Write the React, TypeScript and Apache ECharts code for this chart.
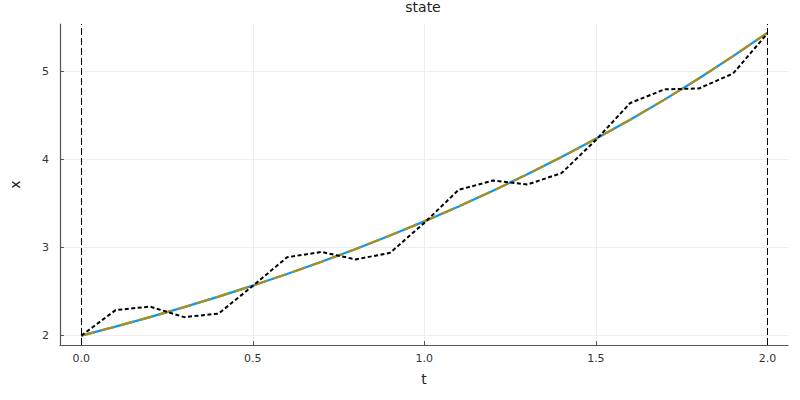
import React, { useEffect, useRef } from "react";
import * as echarts from "echarts";

const tValues = [0, 0.1, 0.2, 0.3, 0.4, 0.5, 0.6, 0.7, 0.8, 0.9, 1.0, 1.1, 1.2, 1.3, 1.4, 1.5, 1.6, 1.7, 1.8, 1.9, 2.0];
const exactX = [2.0, 2.103, 2.21, 2.324, 2.443, 2.568, 2.7, 2.838, 2.984, 3.137, 3.297, 3.467, 3.644, 3.831, 4.028, 4.234, 4.451, 4.679, 4.919, 5.172, 5.437];
const approxX = [2.0, 2.103, 2.21, 2.324, 2.443, 2.568, 2.7, 2.838, 2.984, 3.137, 3.297, 3.467, 3.644, 3.831, 4.028, 4.234, 4.451, 4.679, 4.919, 5.172, 5.437];
const noisyX = [2.0, 2.29, 2.33, 2.21, 2.25, 2.565, 2.89, 2.95, 2.865, 2.94, 3.28, 3.655, 3.76, 3.715, 3.845, 4.22, 4.64, 4.795, 4.805, 4.975, 5.43];
const xTicks = [0, 0.5, 1.0, 1.5, 2.0];
const yTicks = [2, 3, 4, 5];
const vLines = [0, 2];

const pairs = (ys: number[]) => tValues.map((t, i) => [t, ys[i]]);

export default function App() {
  const ref = useRef<HTMLDivElement>(null);
  useEffect(() => {
    if (!ref.current) return;
    const chart = echarts.init(ref.current, undefined, { renderer: "svg" });
    const font = "DejaVu Sans";
    chart.setOption({
      animation: false,
      backgroundColor: "#ffffff",
      title: {
        text: "state",
        left: 423,
        top: 0,
        padding: 0,
        textAlign: "center",
        textStyle: { fontFamily: font, fontSize: 14, fontWeight: "normal", color: "#222" },
      },
      grid: { left: 57, right: 12, top: 24, bottom: 55, containLabel: false },
      xAxis: {
        type: "value",
        min: -0.062,
        max: 2.06,
        name: "t",
        nameLocation: "middle",
        nameGap: 27,
        nameTextStyle: { fontFamily: font, fontSize: 14, color: "#222" },
        axisLine: { show: true, onZero: false, lineStyle: { color: "#555", width: 1.2 } },
        axisTick: { show: true, inside: true, length: 4, customValues: xTicks, lineStyle: { color: "#555" } },
        axisLabel: {
          customValues: xTicks,
          fontFamily: font,
          fontSize: 11,
          color: "#333",
          margin: 8,
          formatter: (v: number) => v.toFixed(1),
        },
        splitLine: { show: true, lineStyle: { color: "#eeeeee", width: 1 } },
      },
      yAxis: {
        type: "value",
        min: 1.894,
        max: 5.537,
        name: "x",
        nameLocation: "middle",
        nameGap: 38,
        nameRotate: 90,
        nameTextStyle: { fontFamily: font, fontSize: 14, color: "#222" },
        axisLine: { show: true, onZero: false, lineStyle: { color: "#555", width: 1.2 } },
        axisTick: { show: true, inside: true, length: 4, customValues: yTicks, lineStyle: { color: "#555" } },
        axisLabel: {
          customValues: yTicks,
          fontFamily: font,
          fontSize: 11,
          color: "#333",
          margin: 11,
          formatter: (v: number) => String(Math.round(v)),
        },
        splitLine: { show: true, lineStyle: { color: "#eeeeee", width: 1 } },
      },
      series: [
        {
          type: "line",
          data: pairs(exactX),
          showSymbol: false,
          lineStyle: { color: "#009AFA", width: 2.2 },
          z: 2,
          markLine: {
            silent: true,
            symbol: "none",
            label: { show: false },
            lineStyle: { color: "#000", width: 1, type: [7, 3] },
            data: vLines.map((v) => ({ xAxis: v })),
          },
        },
        {
          type: "line",
          data: pairs(approxX),
          showSymbol: false,
          lineStyle: { color: "#AC8E18", width: 2.2, type: [14, 6] },
          z: 3,
        },
        {
          type: "line",
          data: pairs(noisyX),
          showSymbol: false,
          lineStyle: { color: "#000", width: 2, type: [4, 2.5] },
          z: 4,
        },
      ],
    });
    return () => chart.dispose();
  }, []);
  return <div ref={ref} style={{ width: 800, height: 400, position: "absolute", left: 0, top: 0 }} />;
}
